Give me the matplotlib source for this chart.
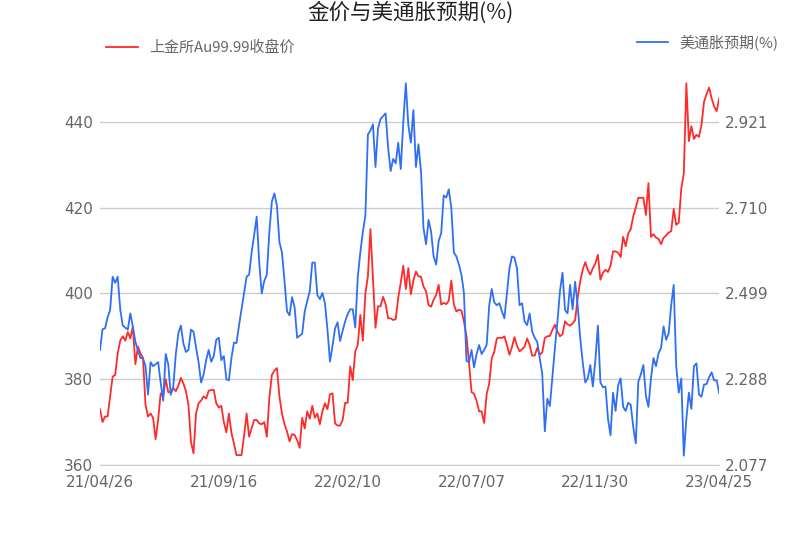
import matplotlib
matplotlib.use("Agg")
import matplotlib.pyplot as plt

plt.rcParams['font.family'] = ['Noto Sans CJK SC', 'DejaVu Sans']

title = "金价与美通胀预期(%)"
gold_label = "上金所Au99.99收盘价"
infl_label = "美通胀预期(%)"
date_labels = ["21/04/26", "21/09/16", "22/02/10", "22/07/07", "22/11/30", "23/04/25"]
left_ticks = [360, 380, 400, 420, 440]
right_ticks = [2.077, 2.288, 2.499, 2.710, 2.921]

gold = [
    373, 370, 371.3, 371.3, 376, 380.6, 381, 386, 389, 390,
    389, 391, 389.5, 392.3, 383.5, 387.6, 386, 385, 374, 371.3,
    372, 371, 366, 370.5, 376.7, 376, 380, 377, 377, 377.9,
    377.2, 378.5, 380.3, 379, 377.2, 374, 365.4, 362.7, 372, 374.4,
    375, 376, 375.5, 377.3, 377.5, 377.5, 374.4, 373.4, 373.8, 370,
    367.6, 372, 367.5, 365, 362.3, 362.3, 362.3, 366.8, 372, 366.6,
    368.6, 370.5, 370.5, 369.7, 369.5, 370, 366.6, 375.6, 381, 382,
    382.6, 376, 372, 369.5, 367.8, 365.5, 367.2, 367, 365.8, 364,
    371, 368.5, 372.5, 370.8, 373.8, 371, 372, 369.5, 372.5, 374.4,
    373, 376.5, 376.7, 369.7, 369.2, 369.2, 370.5, 374.5, 374.5, 383,
    379.8, 386.5, 388, 395, 389, 400, 404, 415, 403.5, 392,
    397, 397, 399.2, 397.5, 394.2, 394.2, 393.8, 394, 399, 402.5,
    406.5, 401, 405.9, 399.8, 403, 405.1, 404, 403.9, 401.6, 400.5,
    397.3, 396.9, 398.5, 399.6, 402, 397.4, 397.8, 397.5, 398.3, 403,
    397.5, 395.8, 396.2, 396, 393.5, 390, 384, 377, 376.6, 375,
    372.5, 372.5, 369.8, 376.6, 379, 384.9, 386.4, 389.5, 389.7, 389.6,
    390, 388, 385.7, 387.5, 389.8, 387.8, 386.5, 387, 387.6, 389.5,
    388, 385.5, 385.5, 387.3, 385.7, 386.3, 389.6, 390, 390.1, 391.5,
    392.7, 391.1, 390, 390.5, 393.5, 392.8, 392.5, 393, 393.8, 399,
    402.8, 405.5, 407.3, 405.5, 404.4, 405.9, 407, 409, 403.2, 404.8,
    405.5, 405, 406.5, 409.8, 409.8, 409.5, 408.5, 413.2, 411, 414,
    415, 418, 420, 422.3, 422.3, 422.3, 418.3, 425.7, 413.2, 413.8,
    413, 412.7, 411.5, 413, 413.5, 414.2, 414.5, 419.7, 416, 416.5,
    424.5, 428, 449, 435.5, 439, 436, 437, 436.5, 439.3, 444.7,
    446.5, 448, 445.5, 443.6, 442.5, 445.5,
]

inflation = [
    2.360, 2.411, 2.413, 2.440, 2.458, 2.540, 2.525, 2.540, 2.460, 2.420,
    2.415, 2.410, 2.450, 2.417, 2.380, 2.360, 2.340, 2.340, 2.320, 2.250,
    2.330, 2.320, 2.325, 2.330, 2.280, 2.235, 2.350, 2.325, 2.250, 2.270,
    2.350, 2.401, 2.420, 2.376, 2.355, 2.360, 2.410, 2.405, 2.366, 2.330,
    2.280, 2.300, 2.335, 2.360, 2.331, 2.345, 2.385, 2.390, 2.335, 2.345,
    2.288, 2.285, 2.340, 2.378, 2.377, 2.420, 2.460, 2.499, 2.540, 2.545,
    2.600, 2.643, 2.688, 2.575, 2.499, 2.530, 2.545, 2.650, 2.725, 2.745,
    2.715, 2.625, 2.600, 2.530, 2.455, 2.445, 2.490, 2.465, 2.390, 2.395,
    2.400, 2.455, 2.480, 2.505, 2.575, 2.575, 2.495, 2.485, 2.500, 2.475,
    2.410, 2.331, 2.370, 2.413, 2.428, 2.382, 2.407, 2.430, 2.448, 2.460,
    2.460, 2.415, 2.540, 2.600, 2.650, 2.690, 2.890, 2.900, 2.915, 2.810,
    2.905, 2.928, 2.935, 2.942, 2.858, 2.800, 2.830, 2.819, 2.870, 2.805,
    2.920, 3.016, 2.913, 2.870, 2.950, 2.810, 2.866, 2.800, 2.660, 2.620,
    2.680, 2.651, 2.590, 2.570, 2.628, 2.647, 2.740, 2.735, 2.755, 2.710,
    2.600, 2.590, 2.570, 2.545, 2.500, 2.333, 2.330, 2.360, 2.317, 2.350,
    2.372, 2.350, 2.360, 2.373, 2.470, 2.510, 2.477, 2.470, 2.475, 2.455,
    2.438, 2.500, 2.560, 2.590, 2.587, 2.560, 2.470, 2.475, 2.430, 2.421,
    2.450, 2.405, 2.390, 2.380, 2.340, 2.300, 2.160, 2.240, 2.222, 2.295,
    2.365, 2.430, 2.505, 2.550, 2.458, 2.450, 2.520, 2.460, 2.528, 2.470,
    2.389, 2.330, 2.280, 2.290, 2.323, 2.270, 2.335, 2.420, 2.280, 2.268,
    2.270, 2.190, 2.150, 2.255, 2.210, 2.273, 2.290, 2.220, 2.210, 2.230,
    2.225, 2.170, 2.130, 2.282, 2.300, 2.323, 2.247, 2.220, 2.290, 2.340,
    2.320, 2.352, 2.365, 2.418, 2.385, 2.400, 2.470, 2.520, 2.320, 2.255,
    2.290, 2.100, 2.190, 2.255, 2.215, 2.320, 2.327, 2.250, 2.245, 2.275,
    2.276, 2.293, 2.305, 2.285, 2.285, 2.253,
]

RED = '#ff2a2a'
BLUE = '#2e6ff5'
GRID = '#cccccc'
TXT = '#666666'
TICK_FONT = ['DejaVu Sans', 'Noto Sans CJK SC']

n = len(gold)
x = list(range(n))
step = (n - 1) // (len(date_labels) - 1)
tick_pos = [i * step for i in range(len(date_labels))]

fig = plt.figure(figsize=(8, 5.33), dpi=100)
ax = fig.add_axes([0.125, 0.1276, 0.774, 0.7242])
ax2 = ax.twinx()

ax.plot(x, gold, color=RED, lw=1.3, label=gold_label, zorder=3)
ax2.plot(list(range(len(inflation))), inflation, color=BLUE, lw=1.3, label=infl_label, zorder=3)

ax.set_xlim(0, n - 1)
ax.set_ylim(360, 450)
ax2.set_ylim(2.077, 2.077 + 0.211 * 4.5)
ax.set_yticks(left_ticks)
ax.set_yticklabels([str(v) for v in left_ticks], family=TICK_FONT)
ax2.set_yticks(right_ticks)
ax2.set_yticklabels([f"{v:.3f}" for v in right_ticks], family=TICK_FONT)
ax.set_xticks(tick_pos)
ax.set_xticklabels(date_labels, family=TICK_FONT)

ax.grid(axis='y', color=GRID, lw=1.0)
ax.set_axisbelow(True)
for a in (ax, ax2):
    for s in a.spines.values():
        s.set_visible(False)
    a.tick_params(length=0, colors=TXT, labelsize=11)
ax.spines['bottom'].set_visible(True)
ax.spines['bottom'].set_color(GRID)
ax.tick_params(axis='y', pad=5)
ax2.tick_params(axis='y', pad=4)
ax.tick_params(axis='x', pad=7)

fig.text(0.513, 0.997, title, ha='center', va='top', fontsize=15.5, color='#222222')

fig.legend(handles=[ax.lines[0]], labels=[gold_label], loc='center left',
           bbox_to_anchor=(0.133, 0.910), frameon=False, fontsize=10.8,
           labelcolor=TXT, handlelength=2.1, handletextpad=0.75, borderaxespad=0,
           borderpad=0)
fig.legend(handles=[ax2.lines[0]], labels=[infl_label], loc='center left',
           bbox_to_anchor=(0.796, 0.921), frameon=False, fontsize=10.8,
           labelcolor=TXT, handlelength=2.1, handletextpad=0.75, borderaxespad=0,
           borderpad=0)

fig.savefig('out.png', dpi=100)
